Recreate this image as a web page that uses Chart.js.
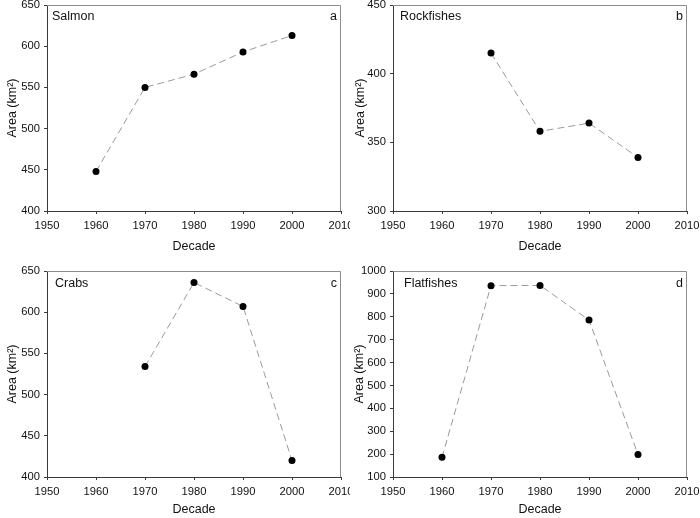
<!DOCTYPE html>
<html>
<head>
<meta charset="utf-8">
<script src="https://cdn.jsdelivr.net/npm/chart.js@4.4.0/dist/chart.umd.min.js"></script>
<style>
  html, body { margin: 0; padding: 0; background: #fff; }
  #wrap { position: relative; width: 700px; height: 518px; overflow: hidden; }
  .panel { position: absolute; width: 350px; height: 259px; }
</style>
</head>
<body>
<div id="wrap">
  <div class="panel" style="left:0;top:0"><canvas id="chartA" width="350" height="259"></canvas></div>
  <div class="panel" style="left:350px;top:0"><canvas id="chartB" width="350" height="259"></canvas></div>
  <div class="panel" style="left:0;top:259px"><canvas id="chartC" width="350" height="259"></canvas></div>
  <div class="panel" style="left:350px;top:259px"><canvas id="chartD" width="350" height="259"></canvas></div>
</div>
<script>
// --- data ---
const salmonYears = [1960, 1970, 1980, 1990, 2000];
const salmonArea = [448, 550, 566, 593, 613];

const rockYears = [1970, 1980, 1990, 2000];
const rockArea = [415, 358, 364, 339];

const crabYears = [1970, 1980, 1990, 2000];
const crabArea = [534, 636, 607, 420];

const flatYears = [1960, 1970, 1980, 1990, 2000];
const flatArea = [186, 936, 937, 786, 198];

const FONT = '"Liberation Sans", Arial, sans-serif';
const AXIS = '#3a3a3a';
const TEXT = '#111';

// draws top/right frame and the panel labels
const framePlugin = {
    id: 'frame',
    afterDraw(chart, args, opts) {
        const { ctx, chartArea: a } = chart;
        ctx.save();
        ctx.strokeStyle = '#8c8c8c';
        ctx.lineWidth = 1;
        ctx.beginPath();
        ctx.moveTo(a.left, a.top + 0.5);
        ctx.lineTo(a.right - 0.5, a.top + 0.5);
        ctx.lineTo(a.right - 0.5, a.bottom);
        ctx.stroke();

        ctx.fillStyle = TEXT;
        ctx.font = '12.5px ' + FONT;
        ctx.textBaseline = 'middle';
        ctx.textAlign = 'left';
        ctx.fillText(opts.name, a.left + opts.nameDx, a.top + opts.dy);
        ctx.textAlign = 'right';
        ctx.fillText(opts.letter, a.right - 4, a.top + opts.dy);
        ctx.restore();
    }
};

function makePanel(id, years, values, cfg) {
    const ctx = document.getElementById(id).getContext('2d');
    return new Chart(ctx, {
        type: 'line',
        data: {
            datasets: [{
                data: years.map((y, i) => ({ x: y, y: values[i] })),
                borderColor: '#9a9a9a',
                borderWidth: 1,
                borderDash: [7, 4],
                pointRadius: 3.5,
                pointBackgroundColor: '#000',
                pointBorderColor: '#000',
                pointBorderWidth: 0,
                tension: 0,
                fill: false,
            }],
        },
        options: {
            responsive: false,
            animation: false,
            devicePixelRatio: 1,
            layout: { padding: { left: 0, top: cfg.top, right: cfg.right, bottom: 0 } },
            plugins: {
                legend: { display: false },
                tooltip: { enabled: false },
                frame: { name: cfg.name, letter: cfg.letter, nameDx: cfg.nameDx, dy: cfg.dy },
            },
            scales: {
                x: {
                    type: 'linear',
                    min: 1950,
                    max: 2010,
                    afterFit: (s) => { s.height = cfg.xHeight; s.paddingLeft = 0; s.paddingRight = 0; },
                    ticks: {
                        stepSize: 10,
                        maxRotation: 0,
                        padding: 5,
                        color: TEXT,
                        font: { family: FONT, size: 11.2 },
                        callback: (v) => String(v),
                    },
                    grid: { drawOnChartArea: false, drawTicks: true, tickLength: 3, color: AXIS },
                    border: { color: AXIS, width: 1 },
                    title: {
                        display: true,
                        text: 'Decade',
                        color: TEXT,
                        font: { family: FONT, size: 12.5, lineHeight: 1 },
                        padding: { top: 0, bottom: cfg.xTitlePad },
                    },
                },
                y: {
                    type: 'linear',
                    min: cfg.yMin,
                    max: cfg.yMax,
                    afterFit: (s) => { s.width = cfg.yWidth; s.paddingTop = 0; s.paddingBottom = 0; },
                    ticks: {
                        stepSize: cfg.yStep,
                        padding: 4,
                        color: TEXT,
                        font: { family: FONT, size: 11.2 },
                        callback: (v) => String(v),
                    },
                    grid: { drawOnChartArea: false, drawTicks: true, tickLength: 3, color: AXIS },
                    border: { color: AXIS, width: 1 },
                    title: {
                        display: true,
                        text: 'Area (km²)',
                        color: TEXT,
                        font: { family: FONT, size: 12.5, lineHeight: 1 },
                        padding: { top: cfg.yTitlePad, bottom: 0 },
                    },
                },
            },
        },
        plugins: [framePlugin],
    });
}

makePanel('chartA', salmonYears, salmonArea, {
    name: 'Salmon', letter: 'a', nameDx: 5, dy: 12,
    top: 5, right: 9, yWidth: 47, xHeight: 48, xTitlePad: 6, yTitlePad: 6,
    yMin: 400, yMax: 650, yStep: 50,
});
makePanel('chartB', rockYears, rockArea, {
    name: 'Rockfishes', letter: 'b', nameDx: 7, dy: 12,
    top: 5, right: 13, yWidth: 43, xHeight: 48, xTitlePad: 6, yTitlePad: 4,
    yMin: 300, yMax: 450, yStep: 50,
});
makePanel('chartC', crabYears, crabArea, {
    name: 'Crabs', letter: 'c', nameDx: 8, dy: 13,
    top: 12, right: 9, yWidth: 47, xHeight: 41, xTitlePad: 2, yTitlePad: 6,
    yMin: 400, yMax: 650, yStep: 50,
});
makePanel('chartD', flatYears, flatArea, {
    name: 'Flatfishes', letter: 'd', nameDx: 11, dy: 13,
    top: 12, right: 13, yWidth: 43, xHeight: 41, xTitlePad: 2, yTitlePad: 3,
    yMin: 100, yMax: 1000, yStep: 100,
});
</script>
</body>
</html>
